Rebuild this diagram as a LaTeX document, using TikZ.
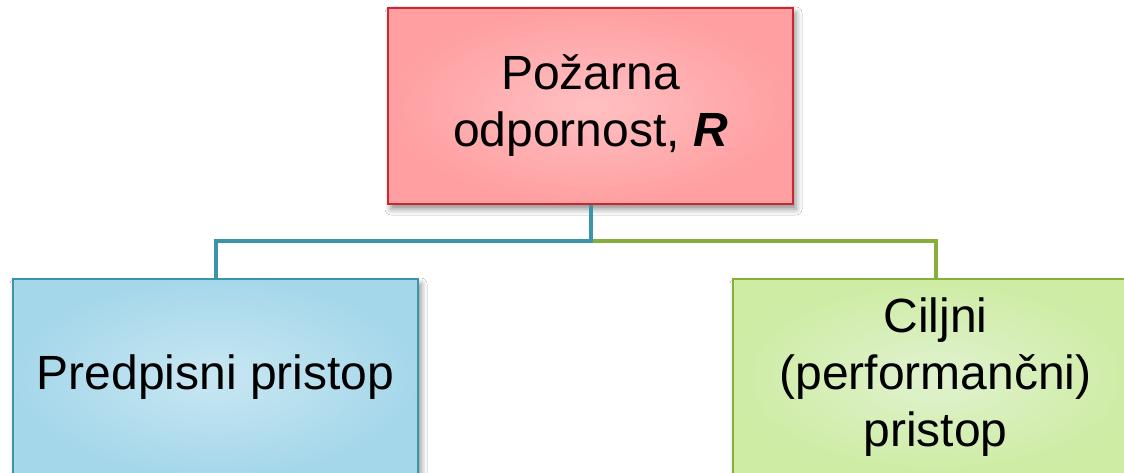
\documentclass[tikz,border=0pt]{standalone}
\usepackage{fontspec}
\setmainfont{Liberation Sans}
\usetikzlibrary{shadows.blur}

\definecolor{redIn}{HTML}{FFC0C2}
\definecolor{redOut}{HTML}{FF9FA1}
\definecolor{redLine}{HTML}{C8282E}
\definecolor{blueIn}{HTML}{C8E7F2}
\definecolor{blueOut}{HTML}{A5D7EA}
\definecolor{blueLine}{HTML}{3A95AA}
\definecolor{greenIn}{HTML}{E0F2CF}
\definecolor{greenOut}{HTML}{CEECA4}
\definecolor{greenLine}{HTML}{86AE38}

\tikzset{
  box/.style={rectangle, minimum width=405pt, minimum height=196pt, inner sep=0pt,
    align=center, line width=2.5pt, shading=radial,
    font=\fontsize{48}{57}\selectfont,
    blur shadow={shadow xshift=3pt, shadow yshift=-5pt, shadow blur radius=6pt, shadow opacity=45}},
  redbox/.style={box, draw=redLine, inner color=redIn, outer color=redOut},
  bluebox/.style={box, draw=blueLine, inner color=blueIn, outer color=blueOut},
  greenbox/.style={box, draw=greenLine, inner color=greenIn, outer color=greenOut},
  link/.style={line width=4pt}
}

\begin{document}
\begin{tikzpicture}[x=1pt, y=-1pt]
  \useasboundingbox (0,0) rectangle (1124,473);
  \fill[white] (0,0) rectangle (1124,473);

  \node[redbox] (top) at (590.5,106) {Požarna\\odpornost, \textbf{\textit{R}}};
  \node[bluebox] (left) at (215.5,377) {Predpisni pristop};
  \node[greenbox] (right) at (935.5,377) {Ciljni\\(performančni)\\pristop};

  \coordinate (j) at (590.5,241);
  \draw[link, greenLine] (j) -| (right.north);
  \draw[link, blueLine] (top.south) -- (j) -| (left.north);
\end{tikzpicture}
\end{document}
